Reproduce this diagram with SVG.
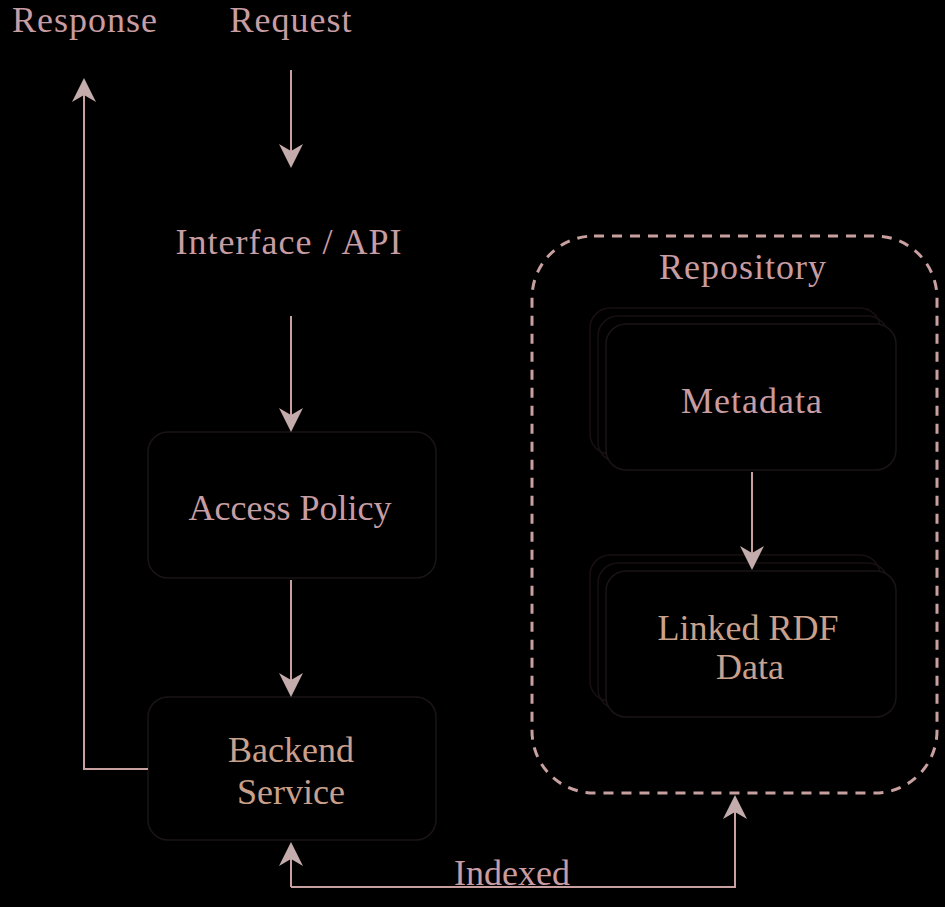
<svg xmlns="http://www.w3.org/2000/svg" width="945" height="907" viewBox="0 0 945 907">
<style>
.t{font-family:"Liberation Serif","DejaVu Serif",serif;font-size:36px;text-anchor:middle;fill:#c79ca2}
.w{letter-spacing:1px}
.tan{fill:#c9a08c}
.box{fill:#000;stroke:#1a1416;stroke-width:1.5}
.faint{fill:none;stroke:#180f11;stroke-width:1.5}
.ln{fill:none;stroke:#c8a0a0;stroke-width:2}
</style>
<defs>
<marker id="ah" viewBox="0 0 24 24" refX="22" refY="12" markerWidth="24" markerHeight="24" markerUnits="userSpaceOnUse" orient="auto">
<path d="M0,0 L24,12 L0,24 L7,12 Z" fill="#c4acac"/>
</marker>
</defs>
<rect width="945" height="907" fill="#000"/>
<g id="repository">
<rect x="532" y="236" width="405" height="557" rx="62" fill="none" stroke="#c8a0a0" stroke-width="3" stroke-dasharray="10 8"/>
<text class="t w" x="743" y="279">Repository</text>
</g>
<g id="request"><text class="t w" x="291" y="32">Request</text></g>
<g id="response"><text class="t w" x="85" y="32">Response</text></g>
<g id="interface"><text class="t w" x="289" y="254">Interface / API</text></g>
<g id="access-policy">
<rect class="box" x="148" y="432" width="288" height="146" rx="20"/>
<text class="t" x="290" y="520">Access Policy</text>
</g>
<g id="backend-service">
<rect class="box" x="148" y="697" width="288" height="143" rx="20"/>
<text class="t tan" x="291" y="762">Backend</text>
<text class="t tan" x="291" y="804">Service</text>
</g>
<g id="metadata">
<rect class="faint" x="590" y="308" width="290" height="146" rx="20"/>
<rect class="faint" x="598" y="316" width="290" height="146" rx="20"/>
<rect class="box" x="606" y="324" width="290" height="146" rx="20"/>
<text class="t w" x="752" y="413">Metadata</text>
</g>
<g id="linked-rdf">
<rect class="faint" x="590" y="555" width="290" height="146" rx="20"/>
<rect class="faint" x="598" y="563" width="290" height="146" rx="20"/>
<rect class="box" x="606" y="571" width="290" height="146" rx="20"/>
<text class="t tan" x="748" y="640">Linked RDF</text>
<text class="t tan" x="750" y="679">Data</text>
</g>
<g id="indexed-label"><text class="t" x="512" y="885">Indexed</text></g>
<g id="connectors">
<path class="ln" d="M291,70 V166" marker-end="url(#ah)"/>
<path class="ln" d="M291,316 V430" marker-end="url(#ah)"/>
<path class="ln" d="M291,580 V695" marker-end="url(#ah)"/>
<path class="ln" d="M148,769 H84 V80" marker-end="url(#ah)"/>
<path class="ln" d="M752,472 V568" marker-end="url(#ah)"/>
<path class="ln" d="M291,887 V844" marker-end="url(#ah)"/>
<path class="ln" d="M291,887 H735 V797" marker-end="url(#ah)"/>
</g>
</svg>
